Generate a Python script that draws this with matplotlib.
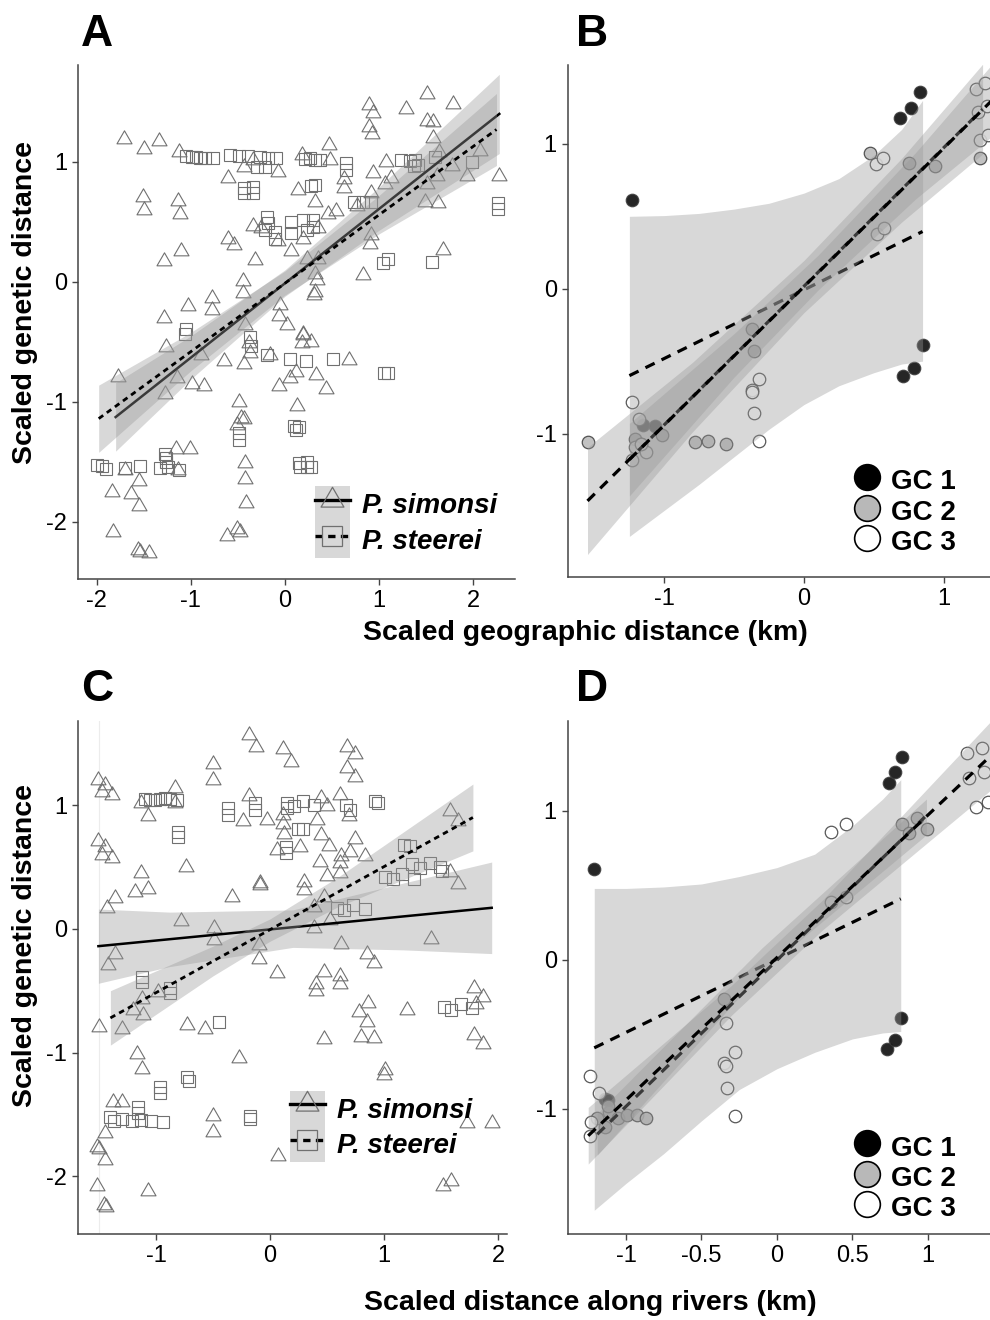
import matplotlib
matplotlib.use("Agg")
import matplotlib.pyplot as plt
from matplotlib.lines import Line2D
from matplotlib.patches import Patch
from matplotlib.path import Path
from matplotlib.legend_handler import HandlerTuple

plt.rcParams['font.family'] = ['Liberation Sans', 'DejaVu Sans']

# ---------------- data ----------------
# panel A: geographic distance, species
A_sim = [(-1.71,1.19),(-1.50,1.11),(-1.34,1.175),(-1.13,1.08),(-1.51,0.71),(-1.50,0.60),(-1.14,0.675),(-1.12,0.57),
         (-0.60,0.87),(-0.43,0.96),(-0.34,1.02),(-0.07,0.92),(0.18,1.06),(0.47,1.14),(0.48,1.02),(0.14,0.77),(0.32,0.67),
         (0.63,0.86),(0.63,0.78),(0.54,0.59),(0.46,0.57),(0.89,1.475),(0.94,1.41),(0.89,1.29),(0.93,1.23),(1.29,1.44),
         (1.51,1.57),(1.79,1.48),(1.51,1.34),(1.57,1.33),(1.57,1.20),(1.64,1.08),(2.07,1.09),(2.28,0.88),(1.94,0.88),
         (1.78,0.97),(1.62,0.88),(1.51,0.82),(1.07,1.0),(1.13,0.87),(1.06,0.82),(0.94,0.91),(0.92,0.74),(1.49,0.67),
         (1.63,0.66),(1.68,0.27),(0.92,0.39),(0.91,0.32),(0.83,0.06),(0.77,0.63),(-0.34,0.47),(-0.25,0.45),(-0.07,0.34),
         (0.07,0.26),(0.19,0.36),(0.35,0.45),(-0.60,0.36),(-0.54,0.31),(-1.11,0.26),(-1.29,0.175),(-0.32,0.18),(0.23,0.19),
         (0.35,0.19),(0.32,0.07),(0.34,0.02),(0.32,-0.08),(0.31,-0.11),(-0.45,0.01),(-0.45,-0.09),(-0.77,-0.13),(-0.78,-0.23),
         (-1.03,-0.20),(-1.29,-0.30),(-0.05,-0.19),(-0.06,-0.28),(0.02,-0.36),(-0.42,-0.36),(0.19,-0.43),(-1.26,-0.54),
         (-0.89,-0.61),(-0.65,-0.66),(-0.43,-0.68),(-0.37,-0.59),(-0.38,-0.51),(-0.16,-0.61),(0.19,-0.44),(0.18,-0.51),
         (0.28,-0.50),(0.68,-0.65),(0.12,-0.75),(0.05,-0.80),(0.33,-0.775),(-0.06,-0.87),(0.44,-0.89),(-1.78,-0.79),
         (-1.15,-0.80),(-0.99,-0.85),(-0.86,-0.87),(-1.27,-0.93),(-0.49,-1.00),(0.13,-1.03),(-0.47,-1.13),(-0.43,-1.14),
         (-0.51,-1.19),(-1.16,-1.39),(-1.01,-1.39),(-1.70,-1.57),(-1.55,-1.66),(-1.84,-1.75),(-1.64,-1.77),(-1.55,-1.87),
         (-1.14,-1.57),(-0.42,-1.51),(-0.42,-1.64),(-0.41,-1.84),(-1.83,-2.08),(-1.56,-2.23),(-1.54,-2.25),(-1.44,-2.26),
         (-0.62,-2.12),(-0.51,-2.06),(-0.48,-2.08)]
A_ste = [(-1.05,1.05),(-0.99,1.04),(-0.95,1.04),(-0.90,1.03),(-0.85,1.03),(-0.76,1.03),(-0.58,1.06),(-0.49,1.05),
         (-0.39,1.05),(-0.27,1.04),(-0.18,1.03),(-0.09,1.03),(-0.30,0.96),(-0.21,0.96),(-0.43,0.78),(-0.34,0.79),
         (-0.43,0.74),(-0.34,0.74),(0.21,1.025),(0.27,1.03),(0.32,1.02),(0.37,1.02),(0.65,0.99),(0.65,0.93),(0.28,0.80),
         (0.32,0.81),(-0.19,0.54),(-0.18,0.49),(-0.21,0.43),(-0.11,0.42),(-0.11,0.36),(0.06,0.50),(0.06,0.41),(0.19,0.52),
         (0.23,0.43),(0.30,0.52),(0.30,0.46),(0.74,0.67),(0.83,0.67),(0.92,0.67),(1.24,1.02),(1.33,1.01),(1.38,1.02),
         (1.42,0.975),(1.37,0.97),(1.60,1.04),(1.99,1.00),(2.27,0.66),(2.27,0.61),(1.10,0.19),(1.04,0.16),(1.56,0.17),
         (-1.05,-0.39),(-1.06,-0.43),(-0.37,-0.46),(-0.36,-0.53),(-0.19,-0.61),(0.05,-0.64),(0.22,-0.66),(0.51,-0.64),
         (1.05,-0.76),(1.10,-0.76),(0.10,-1.20),(0.15,-1.21),(0.12,-1.23),(-0.49,-1.26),(-0.49,-1.32),(0.15,-1.51),
         (0.24,-1.50),(0.28,-1.54),(0.16,-1.54),(0.24,-1.54),(-2.00,-1.525),(-1.95,-1.53),(-1.90,-1.56),(-1.70,-1.55),
         (-1.54,-1.53),(-1.33,-1.55),(-1.24,-1.54),(-1.13,-1.57),(-1.28,-1.43),(-1.26,-1.47),(-1.26,-1.50)]
A_sim_line_x = [-1.8, 2.28]
A_sim_line_y = [-1.126, 1.40]
A_sim_band_x = [-1.8, -1.0, 0.0, 1.0, 2.28]
A_sim_band_lo = [-1.41, -0.81, -0.12, 0.43, 1.07]
A_sim_band_hi = [-0.84, -0.45, 0.10, 0.79, 1.73]
A_ste_line_x = [-1.98, 2.25]
A_ste_line_y = [-1.139, 1.27]
A_ste_band_x = [-1.98, -1.0, 0.0, 1.0, 2.25]
A_ste_band_lo = [-1.42, -0.74, -0.11, 0.40, 0.97]
A_ste_band_hi = [-0.86, -0.42, 0.09, 0.72, 1.57]

# panel C: distance along rivers, species
C_sim = [(-1.51,1.20),(-1.45,1.16),(-1.47,1.11),(-1.39,1.08),(-1.13,1.02),(-1.07,0.91),(-0.83,1.14),(-0.83,1.02),
         (-1.51,0.71),(-1.45,0.665),(-1.47,0.60),(-1.39,0.57),(-1.13,0.45),(-1.18,0.30),(-1.07,0.32),(-1.36,0.25),
         (-1.43,0.17),(-0.74,0.50),(-0.78,0.06),(-0.50,1.33),(-0.50,1.20),(-0.18,1.57),(-0.12,1.47),(0.11,1.45),(0.18,1.35),
         (0.68,1.47),(0.75,1.41),(0.68,1.30),(0.75,1.23),(-0.18,1.07),(-0.24,0.87),(-0.03,0.88),(0.11,0.92),(0.11,0.85),
         (0.12,0.77),(0.06,0.64),(0.26,0.665),(0.45,1.06),(0.50,0.99),(0.41,0.88),(0.45,0.76),(0.52,0.67),(0.61,1.08),
         (0.69,0.91),(0.75,0.73),(0.70,0.625),(0.62,0.585),(0.61,0.53),(0.83,0.585),(0.44,0.54),(0.50,0.43),(0.61,0.45),
         (-0.09,0.37),(-0.09,0.355),(0.30,0.38),(0.30,0.315),(-0.33,0.26),(0.47,0.26),(0.39,0.18),(0.53,0.07),(0.39,0.01),
         (-0.49,0.01),(-0.49,-0.09),(-0.10,-0.13),(-0.10,-0.24),(0.62,-0.12),(0.85,-0.20),(0.91,-0.28),(1.41,-0.08),
         (1.58,0.95),(1.65,0.87),(1.58,0.46),(1.65,0.36),(-1.42,-0.29),(-1.36,-0.20),(0.06,-0.36),(0.47,-0.345),
         (0.61,-0.385),(0.40,-0.445),(0.40,-0.50),(0.61,-0.445),(1.79,-0.48),(1.87,-0.55),(1.81,-0.61),(1.79,-0.86),
         (1.87,-0.93),(1.20,-0.655),(0.78,-0.67),(0.86,-0.60),(0.85,-0.755),(0.80,-0.875),(0.91,-0.88),(0.47,-0.89),
         (1.725,-1.57),(1.95,-1.57),(1.01,-1.14),(1.00,-1.18),(0.07,-1.835),(1.52,-2.08),(1.59,-2.04),(-1.50,-0.79),
         (-1.30,-0.81),(-1.20,-0.66),(-1.11,-0.695),(-1.125,-0.57),(-0.98,-0.51),(-0.73,-0.78),(-0.57,-0.81),(-0.27,-1.04),
         (-1.17,-1.01),(-1.125,-1.13),(-1.38,-1.40),(-1.30,-1.40),(-0.50,-1.51),(-0.50,-1.64),(-1.45,-1.65),(-1.52,-1.76),
         (-1.50,-1.78),(-1.45,-1.87),(-1.515,-2.08),(-1.07,-2.12),(-1.46,-2.23),(-1.44,-2.25)]
C_ste = [(-1.10,1.05),(-1.05,1.04),(-1.01,1.04),(-0.965,1.05),(-0.92,1.06),(-0.88,1.05),(-0.82,1.04),(-0.81,0.78),
         (-0.81,0.74),(-0.37,0.975),(-0.37,0.92),(-0.13,1.02),(-0.13,0.96),(0.15,1.02),(0.21,0.99),(0.29,1.03),(0.39,1.00),
         (0.15,0.975),(0.25,0.81),(0.29,0.81),(0.14,0.665),(0.14,0.61),(0.67,1.00),(0.70,0.96),(0.92,1.03),(0.95,1.02),
         (1.18,0.68),(1.23,0.67),(1.01,0.42),(1.08,0.40),(1.16,0.44),(1.26,0.40),(1.25,0.525),(1.32,0.49),(1.40,0.53),
         (1.49,0.50),(1.51,0.47),(0.585,0.17),(0.65,0.15),(0.725,0.19),(0.83,0.16),(-1.125,-0.39),(-1.125,-0.43),
         (-0.88,-0.48),(-0.88,-0.52),(-0.445,-0.755),(-0.73,-1.20),(-0.71,-1.23),(-0.965,-1.275),(-0.965,-1.33),
         (-1.155,-1.44),(-1.155,-1.49),(-1.40,-1.52),(-1.37,-1.55),(-1.30,-1.54),(-1.21,-1.55),(-1.135,-1.545),
         (-1.04,-1.55),(-0.94,-1.56),(-0.175,-1.51),(-0.175,-1.54),(1.53,-0.63),(1.59,-0.655),(1.68,-0.61),(1.77,-0.64)]
C_sim_line_x = [-1.505, 1.945]
C_sim_line_y = [-0.14, 0.17]
C_sim_band_x = [-1.505, -0.88, 0.2, 1.17, 1.945]
C_sim_band_lo = [-0.44, -0.305, -0.15, -0.17, -0.20]
C_sim_band_hi = [0.16, 0.135, 0.153, 0.37, 0.54]
C_ste_line_x = [-1.40, 1.78]
C_ste_line_y = [-0.72, 0.90]
C_ste_band_x = [-1.40, -0.5, 0.0, 0.6, 1.78]
C_ste_band_lo = [-0.94, -0.38, -0.10, 0.18, 0.63]
C_ste_band_hi = [-0.50, -0.14, 0.08, 0.42, 1.17]

# panel B: geographic distance, genetic clusters
B_gc1 = [(-1.23,0.61),(0.69,1.18),(0.77,1.25),(0.83,1.36),(0.71,-0.60),(0.79,-0.55),(0.85,-0.39),(-1.15,-0.94),(-1.07,-0.945)]
B_gc2 = [(-1.55,-1.06),(-1.21,-1.04),(-1.17,-1.07),(-1.02,-1.01),(-0.78,-1.06),(-0.69,-1.05),(-0.56,-1.07),
         (-0.36,-0.43),(-0.37,-0.28),(0.47,0.94),(0.755,0.87),(0.94,0.85),(1.26,0.90)]
B_gc3 = [(-1.23,-0.78),(-1.18,-0.90),(-1.21,-1.09),(-1.13,-1.13),(-1.23,-1.18),(-1.17,-1.07),(-0.325,-0.62),
         (-0.37,-0.70),(-0.37,-0.715),(-0.36,-0.86),(-0.325,-1.05),(0.52,0.86),(0.57,0.90),(0.525,0.38),(0.575,0.42),
         (1.23,1.38),(1.30,1.42),(1.25,1.22),(1.31,1.26),(1.26,1.03),(1.32,1.06)]
B_fits = [  # (line x, line y, band x, band lo, band hi)
    ([-1.25, 0.85], [-0.60, 0.395],
     [-1.25, -1.0, -0.75, -0.5, -0.25, 0.0, 0.25, 0.5, 0.7, 0.85],
     [-1.71, -1.53, -1.35, -1.16, -0.97, -0.80, -0.67, -0.58, -0.52, -0.50],
     [0.50, 0.505, 0.52, 0.55, 0.59, 0.66, 0.76, 0.92, 1.10, 1.30]),
    ([-1.55, 1.28], [-1.465, 1.24],
     [-1.55, -0.8, 0.0, 0.7, 1.28],
     [-1.835, -0.99, -0.165, 0.46, 0.93],
     [-1.095, -0.51, 0.195, 0.90, 1.55]),
    ([-1.25, 1.42], [-1.18, 1.37],
     [-1.25, -0.5, 0.1, 0.8, 1.42],
     [-1.43, -0.61, -0.01, 0.62, 1.11],
     [-0.93, -0.31, 0.23, 0.94, 1.63]),
]

# panel D: distance along rivers, genetic clusters
D_gc1 = [(-1.21,0.61),(0.74,1.19),(0.78,1.26),(0.83,1.365),(0.73,-0.60),(0.78,-0.54),(0.82,-0.39),(-1.14,-0.93),(-1.12,-0.94)]
D_gc2 = [(-1.19,-1.06),(-1.11,-1.02),(-1.05,-1.06),(-0.99,-1.04),(-0.93,-1.04),(-0.865,-1.06),(-1.14,-1.12),
         (-1.12,-0.98),(-0.35,-0.26),(0.83,0.91),(0.925,0.95),(0.875,0.85),(0.995,0.88)]
D_gc3 = [(-1.24,-0.78),(-1.18,-0.895),(-1.23,-1.09),(-1.24,-1.18),(-0.335,-0.42),(-0.28,-0.62),(-0.35,-0.69),
         (-0.34,-0.71),(-0.33,-0.86),(-0.28,-1.05),(0.36,0.86),(0.46,0.91),(0.36,0.39),(0.46,0.425),(1.32,1.03),
         (1.40,1.06),(1.26,1.39),(1.355,1.425),(1.27,1.22),(1.37,1.26)]
D_fits = [
    ([-1.21, 0.82], [-0.59, 0.41],
     [-1.21, -1.0, -0.75, -0.5, -0.25, 0.0, 0.25, 0.5, 0.7, 0.82],
     [-1.68, -1.50, -1.30, -1.08, -0.87, -0.73, -0.62, -0.53, -0.49, -0.48],
     [0.48, 0.48, 0.49, 0.51, 0.56, 0.62, 0.71, 0.90, 1.08, 1.21]),
    ([-1.19, 0.98], [-1.17, 0.96],
     [-1.19, -0.1, 0.99],
     [-1.31, -0.08, 0.84],
     [-1.03, 0.08, 1.08]),
    ([-1.25, 1.41], [-1.18, 1.365],
     [-1.25, -0.3, 0.3, 1.41],
     [-1.37, -0.37, 0.20, 1.135],
     [-0.99, -0.17, 0.40, 1.595]),
]

gc_labels = ['GC 1', 'GC 2', 'GC 3']
gc_fill = ['black', '#b8b8b8', 'white']
species = ['P. simonsi', 'P. steerei']

# ---------------- styling ----------------
TRI = Path([(-1, -0.577), (1, -0.577), (0, 1.155), (-1, -0.577)],
           [Path.MOVETO, Path.LINETO, Path.LINETO, Path.CLOSEPOLY])
BAND = dict(color='#999999', alpha=0.38, lw=0)
SPINE = '#444444'
DOT = (0, (2.0, 1.6))
DASH = (0, (3.2, 2.4))


def style_axes(ax, xlim, ylim, xticks, yticks, xtl=None):
    ax.set_xlim(*xlim)
    ax.set_ylim(*ylim)
    for s in ['top', 'right']:
        ax.spines[s].set_visible(False)
    for s in ['left', 'bottom']:
        ax.spines[s].set_color(SPINE)
        ax.spines[s].set_linewidth(1.1)
    ax.set_xticks(xticks)
    ax.set_yticks(yticks)
    ax.set_xticklabels(xtl if xtl else [str(t) for t in xticks])
    ax.set_yticklabels([str(t) for t in yticks])
    ax.tick_params(length=4, width=1, color=SPINE, labelsize=17, labelcolor='black', pad=4)


def species_panel(ax, sim, ste, sim_fit, ste_fit):
    ax.plot([p[0] for p in sim], [p[1] for p in sim], ls='none', marker=TRI, ms=12.5,
            mfc='none', mec='#707070', mew=0.8, zorder=2)
    ax.plot([p[0] for p in ste], [p[1] for p in ste], ls='none', marker='s', ms=9,
            mfc='none', mec='#707070', mew=0.8, zorder=2)
    lx, ly, bx, blo, bhi = sim_fit
    ax.fill_between(bx, blo, bhi, zorder=3, **BAND)
    ax.plot(lx, ly, color='black', lw=1.8, zorder=3)
    lx, ly, bx, blo, bhi = ste_fit
    ax.fill_between(bx, blo, bhi, zorder=3, **BAND)
    ax.plot(lx, ly, color='black', lw=2.0, ls=DOT, zorder=3)


def species_legend(ax, anchor):
    h_sim = (Patch(facecolor='#999999', alpha=0.38, edgecolor='none'),
             Line2D([], [], color='black', lw=2.4, marker=TRI, ms=19, mfc='none', mec='#707070', mew=0.9))
    h_ste = (Patch(facecolor='#999999', alpha=0.38, edgecolor='none'),
             Line2D([], [], color='black', lw=2.4, ls=(0, (2.2, 1.6)), marker='s', ms=14, mfc='none',
                    mec='#707070', mew=0.9))
    ax.legend([h_sim, h_ste], species, handler_map={tuple: HandlerTuple(ndivide=1, pad=0)},
              loc='lower left', bbox_to_anchor=anchor, frameon=False, numpoints=1,
              handlelength=1.26, handleheight=1.6, labelspacing=0.0, handletextpad=0.45,
              borderpad=0, borderaxespad=0,
              prop=dict(family='Liberation Sans', weight='bold', style='italic', size=20))


def cluster_panel(ax, groups, fits):
    for pts, fc in zip(groups, gc_fill):
        ax.plot([p[0] for p in pts], [p[1] for p in pts], ls='none', marker='o', ms=9,
                mfc=fc, mec='#3a3a3a', mew=0.9, alpha=0.85, zorder=2)
    for lx, ly, bx, blo, bhi in fits:
        ax.fill_between(bx, blo, bhi, zorder=3, **BAND)
        ax.plot(lx, ly, color='black', lw=2.3, ls=DASH, zorder=3)


def cluster_legend(ax, anchor):
    handles = [Line2D([], [], ls='none', marker='o', ms=18.5, mfc=fc, mec='black', mew=1.2) for fc in gc_fill]
    ax.legend(handles, gc_labels, loc='lower left', bbox_to_anchor=anchor, frameon=False,
              handlelength=0.9, handleheight=1.28, labelspacing=0.0, handletextpad=0.4,
              borderpad=0, borderaxespad=0,
              prop=dict(family='Liberation Sans', weight='bold', size=20))


fig = plt.figure(figsize=(9.9, 13.2), dpi=100)
axA = fig.add_axes([0.0788, 0.5614, 0.4414, 0.3894])
axB = fig.add_axes([0.5737, 0.5629, 0.4263, 0.3879])
axC = fig.add_axes([0.0788, 0.0652, 0.4333, 0.3886])
axD = fig.add_axes([0.5737, 0.0652, 0.4263, 0.3886])

species_panel(axA, A_sim, A_ste,
              (A_sim_line_x, A_sim_line_y, A_sim_band_x, A_sim_band_lo, A_sim_band_hi),
              (A_ste_line_x, A_ste_line_y, A_ste_band_x, A_ste_band_lo, A_ste_band_hi))
style_axes(axA, (-2.20, 2.447), (-2.475, 1.808), [-2, -1, 0, 1, 2], [-2, -1, 0, 1])
species_legend(axA, (0.542, 0.041))

axC.axvline(-1.5, color='#ececec', lw=0.8, zorder=1)
species_panel(axC, C_sim, C_ste,
              (C_sim_line_x, C_sim_line_y, C_sim_band_x, C_sim_band_lo, C_sim_band_hi),
              (C_ste_line_x, C_ste_line_y, C_ste_band_x, C_ste_band_lo, C_ste_band_hi))
style_axes(axC, (-1.684, 2.079), (-2.466, 1.68), [-1, 0, 1, 2], [-2, -1, 0, 1])
species_legend(axC, (0.494, 0.140))

cluster_panel(axB, [B_gc1, B_gc2, B_gc3], B_fits)
style_axes(axB, (-1.69, 1.333), (-1.99, 1.545), [-1, 0, 1], [-1, 0, 1])
cluster_legend(axB, (0.68, 0.041))

cluster_panel(axD, [D_gc1, D_gc2, D_gc3], D_fits)
style_axes(axD, (-1.384, 1.411), (-1.839, 1.604), [-1, -0.5, 0, 0.5, 1], [-1, 0, 1],
           xtl=['-1', '-0.5', '0', '0.5', '1'])
cluster_legend(axD, (0.68, 0.023))

# panel letters and axis titles
for lab, x, y in [('A', 0.098, 0.9735), ('B', 0.598, 0.9735), ('C', 0.098, 0.478), ('D', 0.598, 0.478)]:
    fig.text(x, y, lab, ha='center', va='center', fontsize=32, fontweight='bold')
fig.text(0.025, 0.771, 'Scaled genetic distance', rotation=90, ha='center', va='center',
         fontsize=20.5, fontweight='bold')
fig.text(0.025, 0.284, 'Scaled genetic distance', rotation=90, ha='center', va='center',
         fontsize=20.5, fontweight='bold')
fig.text(0.591, 0.5205, 'Scaled geographic distance (km)', ha='center', va='center',
         fontsize=20.5, fontweight='bold')
fig.text(0.596, 0.0129, 'Scaled distance along rivers (km)', ha='center', va='center',
         fontsize=20.5, fontweight='bold')

fig.savefig('out.png', dpi=100)
